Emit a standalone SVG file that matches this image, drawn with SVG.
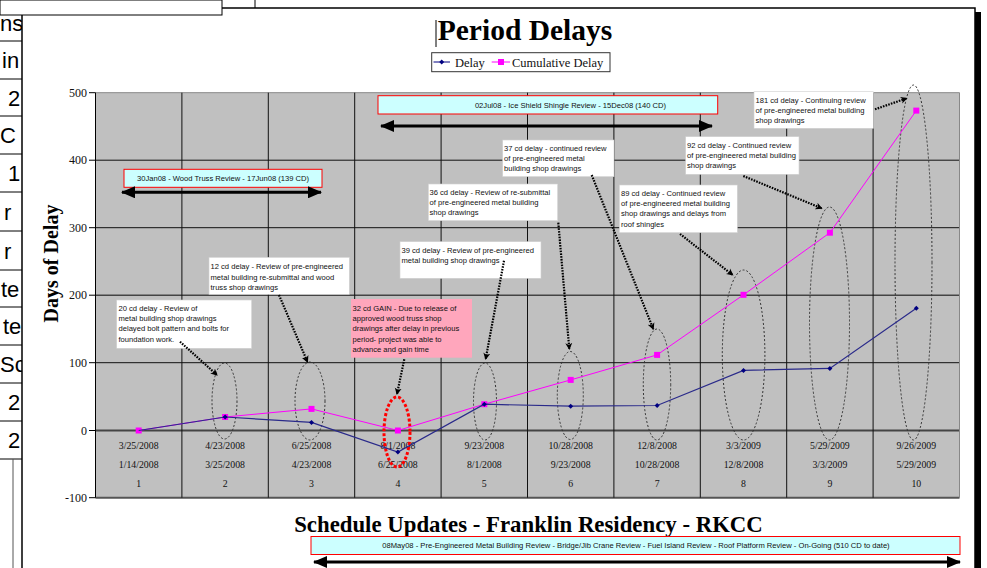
<svg xmlns="http://www.w3.org/2000/svg" width="987" height="568" viewBox="0 0 987 568">
<defs>
<style>
.ttl{font-family:"Liberation Serif","Times New Roman",serif;font-weight:bold;fill:#000}
.tms{font-family:"Liberation Serif","Times New Roman",serif;fill:#111}
.ann{font-family:"Liberation Sans",Arial,sans-serif;font-size:7.6px;fill:#111}
.tbl{font-family:"Liberation Sans",Arial,sans-serif;font-size:22px;fill:#000}
.box{fill:#fff;stroke:#d0d0d0;stroke-width:0.6}
.ban{fill:#ccffff;stroke:#ff0000;stroke-width:1}
.grid{stroke:#111;stroke-width:1}
.ell{fill:none;stroke:#333;stroke-width:1;stroke-dasharray:2 2}
.dot{fill:none;stroke:#000;stroke-width:2.2;stroke-dasharray:1.6 1.2}
.dbl{stroke:#000;stroke-width:3}
</style>
<marker id="ah" markerWidth="8" markerHeight="8" refX="6" refY="4" orient="auto" markerUnits="userSpaceOnUse">
<path d="M0,0.5 L7,4 L0,7.5 L2,4 Z" fill="#000"/>
</marker>
<marker id="bh" markerWidth="14" markerHeight="12" refX="13" refY="6" orient="auto-start-reverse" markerUnits="userSpaceOnUse">
<path d="M0,0 L14,6 L0,12 Z" fill="#000"/>
</marker>
<clipPath id="tclip"><rect x="0" y="15" width="22" height="553"/></clipPath>
</defs>

<rect x="0" y="0" width="987" height="568" fill="#fff"/>

<!-- background table strip on the left -->
<g id="left-table">
<g clip-path="url(#tclip)">
<text class="tbl" x="0" y="31">ns</text>
<text class="tbl" x="2" y="68">in</text>
<text class="tbl" x="8" y="105.5">2</text>
<text class="tbl" x="0" y="143">C</text>
<text class="tbl" x="8" y="181">1</text>
<text class="tbl" x="4" y="219.5">r</text>
<text class="tbl" x="4" y="258.5">r</text>
<text class="tbl" x="1" y="296.5">te</text>
<text class="tbl" x="3" y="334">te</text>
<text class="tbl" x="0" y="372">Sc</text>
<text class="tbl" x="8" y="410">2</text>
<text class="tbl" x="8" y="448">2</text>
</g>
<g stroke="#000" stroke-width="1">
<line x1="0" y1="41" x2="22" y2="41"/>
<line x1="0" y1="79" x2="22" y2="79"/>
<line x1="0" y1="116" x2="22" y2="116"/>
<line x1="0" y1="154" x2="22" y2="154"/>
<line x1="0" y1="192" x2="22" y2="192"/>
<line x1="0" y1="231" x2="22" y2="231"/>
<line x1="0" y1="270" x2="22" y2="270"/>
<line x1="0" y1="307" x2="22" y2="307"/>
<line x1="0" y1="345" x2="22" y2="345"/>
<line x1="0" y1="383" x2="22" y2="383"/>
<line x1="0" y1="421" x2="22" y2="421"/>
<line x1="0" y1="459" x2="22" y2="459"/>
</g>
<line x1="13" y1="459" x2="13" y2="568" stroke="#555" stroke-width="1"/>
</g>

<!-- chart frame -->
<g id="frame">
<path d="M22,568 V8 H975 V568" fill="none" stroke="#000" stroke-width="1.5"/>
<rect x="975" y="12" width="6" height="556" fill="#000"/>
<rect x="0" y="0" width="222" height="15" fill="#fff" stroke="#000" stroke-width="1"/>
<line x1="255" y1="0" x2="255" y2="8" stroke="#000" stroke-width="1"/>
</g>

<!-- titles -->
<g id="title">
<text class="ttl" x="525" y="40" font-size="29.5" text-anchor="middle">Period Delays</text>
<line x1="436" y1="20" x2="436" y2="47" stroke="#000" stroke-width="1"/>
</g>
<g id="legend">
<rect x="431.7" y="52.7" width="178.3" height="19" fill="#fff" stroke="#333" stroke-width="1"/>
<line x1="433.5" y1="62" x2="450" y2="62" stroke="#000080" stroke-width="1"/>
<path d="M441.7,59.5 L444.2,62 L441.7,64.5 L439.2,62 Z" fill="#000080"/>
<text class="tms" x="455" y="66.5" font-size="12.5">Delay</text>
<line x1="491.7" y1="62" x2="510" y2="62" stroke="#ff00ff" stroke-width="1"/>
<rect x="498" y="59" width="6" height="6" fill="#ff00ff"/>
<text class="tms" x="512" y="66.5" font-size="12.5">Cumulative Delay</text>
</g>

<!-- plot area -->
<g id="plot">
<rect x="95.5" y="92.7" width="864" height="405" fill="#c0c0c0"/>
<g class="grid">
<line x1="95.5" y1="92.7" x2="959.5" y2="92.7" stroke="#888"/>
<line x1="95.5" y1="160.2" x2="959.5" y2="160.2"/>
<line x1="95.5" y1="227.7" x2="959.5" y2="227.7"/>
<line x1="95.5" y1="295.2" x2="959.5" y2="295.2" stroke="#444" stroke-width="1.5"/>
<line x1="95.5" y1="362.7" x2="959.5" y2="362.7"/>
<line x1="95.5" y1="430.5" x2="959.5" y2="430.5" stroke="#444" stroke-width="2"/>
<line x1="95.5" y1="497.7" x2="959.5" y2="497.7" stroke="#555" stroke-width="2"/>
<line x1="181.9" y1="92.7" x2="181.9" y2="497.7"/>
<line x1="268.3" y1="92.7" x2="268.3" y2="497.7"/>
<line x1="354.7" y1="92.7" x2="354.7" y2="497.7"/>
<line x1="441.1" y1="92.7" x2="441.1" y2="497.7"/>
<line x1="527.5" y1="92.7" x2="527.5" y2="497.7"/>
<line x1="613.9" y1="92.7" x2="613.9" y2="497.7"/>
<line x1="700.3" y1="92.7" x2="700.3" y2="497.7"/>
<line x1="786.7" y1="92.7" x2="786.7" y2="497.7"/>
<line x1="873.1" y1="92.7" x2="873.1" y2="497.7"/>
<line x1="959.5" y1="92.7" x2="959.5" y2="497.7" stroke="#888"/>
</g>
<!-- y axis -->
<g stroke="#000" stroke-width="1">
<line x1="95.5" y1="92.7" x2="95.5" y2="497.7"/>
<line x1="89" y1="92.7" x2="95.5" y2="92.7"/>
<line x1="89" y1="160.2" x2="95.5" y2="160.2"/>
<line x1="89" y1="227.7" x2="95.5" y2="227.7"/>
<line x1="89" y1="295.2" x2="95.5" y2="295.2"/>
<line x1="89" y1="362.7" x2="95.5" y2="362.7"/>
<line x1="89" y1="430.5" x2="95.5" y2="430.5"/>
<line x1="89" y1="497.7" x2="95.5" y2="497.7"/>
</g>
<g class="tms" font-size="12" text-anchor="end">
<text x="87" y="96.7">500</text>
<text x="87" y="164.2">400</text>
<text x="87" y="231.7">300</text>
<text x="87" y="299.2">200</text>
<text x="87" y="366.7">100</text>
<text x="87" y="434.5">0</text>
<text x="87" y="501.7">-100</text>
</g>
<text class="ttl" font-size="20" text-anchor="middle" transform="translate(58,263.5) rotate(-90)">Days of Delay</text>
<!-- category labels -->
<g class="tms" font-size="9.8" text-anchor="middle">
<text x="138.7" y="448.5">3/25/2008</text>
<text x="225.1" y="448.5">4/23/2008</text>
<text x="311.5" y="448.5">6/25/2008</text>
<text x="397.9" y="448.5">8/1/2008</text>
<text x="484.3" y="448.5">9/23/2008</text>
<text x="570.7" y="448.5">10/28/2008</text>
<text x="657.1" y="448.5">12/8/2008</text>
<text x="743.5" y="448.5">3/3/2009</text>
<text x="829.9" y="448.5">5/29/2009</text>
<text x="916.3" y="448.5">9/26/2009</text>
<text x="138.7" y="467.5">1/14/2008</text>
<text x="225.1" y="467.5">3/25/2008</text>
<text x="311.5" y="467.5">4/23/2008</text>
<text x="397.9" y="467.5">6/25/2008</text>
<text x="484.3" y="467.5">8/1/2008</text>
<text x="570.7" y="467.5">9/23/2008</text>
<text x="657.1" y="467.5">10/28/2008</text>
<text x="743.5" y="467.5">12/8/2008</text>
<text x="829.9" y="467.5">3/3/2009</text>
<text x="916.3" y="467.5">5/29/2009</text>
<text x="138.7" y="486.5">1</text>
<text x="225.1" y="486.5">2</text>
<text x="311.5" y="486.5">3</text>
<text x="397.9" y="486.5">4</text>
<text x="484.3" y="486.5">5</text>
<text x="570.7" y="486.5">6</text>
<text x="657.1" y="486.5">7</text>
<text x="743.5" y="486.5">8</text>
<text x="829.9" y="486.5">9</text>
<text x="916.3" y="486.5">10</text>
</g>
<text class="ttl" x="528.5" y="531.5" font-size="22.8" text-anchor="middle">Schedule Updates - Franklin Residency - RKCC</text>
</g>

<!-- highlight ellipses -->
<g id="ellipses">
<ellipse class="ell" cx="224.5" cy="401" rx="12.5" ry="38"/>
<ellipse class="ell" cx="310" cy="401" rx="15" ry="39"/>
<ellipse cx="397" cy="432" rx="13" ry="35" fill="none" stroke="#ff0000" stroke-width="3" stroke-dasharray="3 2"/>
<ellipse class="ell" cx="485" cy="401.5" rx="11.5" ry="38.5"/>
<ellipse class="ell" cx="570.3" cy="395.5" rx="13" ry="44"/>
<ellipse class="ell" cx="657" cy="384.5" rx="13.7" ry="55.5"/>
<ellipse class="ell" cx="743.6" cy="355" rx="21.3" ry="85"/>
<ellipse class="ell" cx="829.5" cy="323.5" rx="20" ry="116.5"/>
<ellipse class="ell" cx="913.5" cy="262.5" rx="18.5" ry="177.5"/>
</g>

<!-- data series -->
<g id="series-cumulative">
<polyline points="138.7,430.5 225.1,417 311.5,408.9 397.9,430.5 484.3,404.2 570.7,379.9 657.1,354.9 743.5,294.8 829.9,232.7 916.3,110.6" fill="none" stroke="#ff00ff" stroke-width="1"/>
<g fill="#ff00ff">
<rect x="135.7" y="427.5" width="6" height="6"/>
<rect x="222.1" y="414" width="6" height="6"/>
<rect x="308.5" y="405.9" width="6" height="6"/>
<rect x="394.9" y="427.5" width="6" height="6"/>
<rect x="481.3" y="401.2" width="6" height="6"/>
<rect x="567.7" y="376.9" width="6" height="6"/>
<rect x="654.1" y="351.9" width="6" height="6"/>
<rect x="740.5" y="291.8" width="6" height="6"/>
<rect x="826.9" y="229.7" width="6" height="6"/>
<rect x="913.3" y="107.6" width="6" height="6"/>
</g>
</g>
<g id="series-delay">
<polyline points="138.7,430.5 225.1,417 311.5,422.4 397.9,452.1 484.3,404.2 570.7,406.2 657.1,405.5 743.5,370.4 829.9,368.4 916.3,308.3" fill="none" stroke="#2a2a8a" stroke-width="1.2"/>
<g fill="#000080">
<path d="M225.1,414.5 l2.5,2.5 l-2.5,2.5 l-2.5,-2.5 Z"/>
<path d="M311.5,419.9 l2.5,2.5 l-2.5,2.5 l-2.5,-2.5 Z"/>
<path d="M397.9,449.6 l2.5,2.5 l-2.5,2.5 l-2.5,-2.5 Z"/>
<path d="M484.3,401.7 l2.5,2.5 l-2.5,2.5 l-2.5,-2.5 Z"/>
<path d="M570.7,403.7 l2.5,2.5 l-2.5,2.5 l-2.5,-2.5 Z"/>
<path d="M657.1,403 l2.5,2.5 l-2.5,2.5 l-2.5,-2.5 Z"/>
<path d="M743.5,367.9 l2.5,2.5 l-2.5,2.5 l-2.5,-2.5 Z"/>
<path d="M829.9,365.9 l2.5,2.5 l-2.5,2.5 l-2.5,-2.5 Z"/>
<path d="M916.3,305.8 l2.5,2.5 l-2.5,2.5 l-2.5,-2.5 Z"/>
</g>
</g>

<!-- review duration banners -->
<g id="banner-wood-truss">
<rect class="ban" x="124" y="169.3" width="198" height="18"/>
<text class="ann" x="223" y="180.8" text-anchor="middle">30Jan08 - Wood Truss Review - 17Jun08 (139 CD)</text>
</g>
<g id="banner-ice-shield">
<rect class="ban" x="378" y="95.7" width="339.7" height="18.3"/>
<text class="ann" x="570.5" y="107.5" text-anchor="middle">02Jul08 - Ice Shield Shingle Review - 15Dec08  (140 CD)</text>
</g>
<g id="banner-metal-building">
<rect class="ban" x="311" y="536.5" width="649" height="18"/>
<text class="ann" x="636" y="548" font-size="7" text-anchor="middle">08May08 - Pre-Engineered Metal Building Review - Bridge/Jib Crane Review - Fuel Island Review - Roof Platform Review - On-Going (510 CD to date)</text>
</g>

<!-- annotation boxes -->
<g id="note-20cd">
<rect class="box" x="116.7" y="300" width="135" height="48.3"/>
<text class="ann" x="118.5" y="310.8">20 cd delay - Review of</text>
<text class="ann" x="118.5" y="321.1">metal building shop drawings</text>
<text class="ann" x="118.5" y="331.4">delayed bolt pattern and bolts for</text>
<text class="ann" x="118.5" y="341.7">foundation work.</text>
</g>
<g id="note-12cd">
<rect class="box" x="209" y="257.3" width="140.3" height="37"/>
<text class="ann" x="210.5" y="269.2">12 cd delay - Review of pre-engineered</text>
<text class="ann" x="210.5" y="279.5">metal building re-submittal and wood</text>
<text class="ann" x="210.5" y="289.8">truss shop drawings</text>
</g>
<g id="note-32cd-gain">
<rect x="351" y="299" width="121" height="58.7" fill="#ffa6bc"/>
<text class="ann" x="352.5" y="310.8">32 cd GAIN - Due to release of</text>
<text class="ann" x="352.5" y="321.1">approved wood truss shop</text>
<text class="ann" x="352.5" y="331.4">drawings after delay in previous</text>
<text class="ann" x="352.5" y="341.7">period- project was able to</text>
<text class="ann" x="352.5" y="352">advance and gain time</text>
</g>
<g id="note-39cd">
<rect class="box" x="400" y="241.7" width="141" height="36.6"/>
<text class="ann" x="401.5" y="252.5">39 cd delay - Review of pre-engineered</text>
<text class="ann" x="401.5" y="262.8">metal building shop drawings</text>
</g>
<g id="note-36cd">
<rect class="box" x="428.3" y="184" width="129.4" height="36.7"/>
<text class="ann" x="429.5" y="194.8">36 cd delay - Review of re-submittal</text>
<text class="ann" x="429.5" y="205.1">of pre-engineered metal building</text>
<text class="ann" x="429.5" y="215.4">shop drawings</text>
</g>
<g id="note-37cd">
<rect class="box" x="502.7" y="140" width="111.3" height="36.7"/>
<text class="ann" x="504" y="150.5">37 cd delay - continued review</text>
<text class="ann" x="504" y="160.8">of pre-engineered metal</text>
<text class="ann" x="504" y="171.1">building shop drawings</text>
</g>
<g id="note-89cd">
<rect class="box" x="619.3" y="185" width="118" height="47.7"/>
<text class="ann" x="621" y="195.8">89 cd delay - Continued review</text>
<text class="ann" x="621" y="206.1">of pre-engineered metal building</text>
<text class="ann" x="621" y="216.4">shop drawings and delays from</text>
<text class="ann" x="621" y="226.7">roof shingles</text>
</g>
<g id="note-92cd">
<rect class="box" x="685.7" y="136.7" width="113.3" height="37.6"/>
<text class="ann" x="687" y="147.8">92 cd delay - Continued review</text>
<text class="ann" x="687" y="158.1">of pre-engineered metal building</text>
<text class="ann" x="687" y="168.4">shop drawings</text>
</g>
<g id="note-181cd">
<rect class="box" x="754" y="91.7" width="119.3" height="36.6"/>
<text class="ann" x="755.5" y="102.5">181 cd delay - Continuing review</text>
<text class="ann" x="755.5" y="112.8">of pre-engineered metal building</text>
<text class="ann" x="755.5" y="123.1">shop drawings</text>
</g>

<!-- connectors -->
<g id="connectors">
<line class="dot" x1="180" y1="341.7" x2="217" y2="375" marker-end="url(#ah)"/>
<line class="dot" x1="279" y1="295" x2="307.5" y2="362" marker-end="url(#ah)"/>
<line class="dot" x1="404.3" y1="359.3" x2="397" y2="394" marker-end="url(#ah)"/>
<line class="dot" x1="504" y1="260.7" x2="485.7" y2="359" marker-end="url(#ah)"/>
<line class="dot" x1="558.3" y1="222.7" x2="569.3" y2="349" marker-end="url(#ah)"/>
<line class="dot" x1="591.7" y1="175" x2="653.3" y2="329" marker-end="url(#ah)"/>
<line class="dot" x1="680" y1="234" x2="732.7" y2="275" marker-end="url(#ah)"/>
<line class="dot" x1="743.3" y1="176" x2="821.7" y2="208.3" marker-end="url(#ah)"/>
<line class="dot" x1="875" y1="109.3" x2="906.7" y2="98.3" marker-end="url(#ah)"/>
<line class="dbl" x1="122" y1="192.3" x2="321" y2="192.3" marker-start="url(#bh)" marker-end="url(#bh)"/>
<line class="dbl" x1="381" y1="126" x2="712" y2="126" marker-start="url(#bh)" marker-end="url(#bh)"/>
<line class="dbl" x1="314" y1="562" x2="960" y2="562" marker-start="url(#bh)" marker-end="url(#bh)"/>
</g>
</svg>
